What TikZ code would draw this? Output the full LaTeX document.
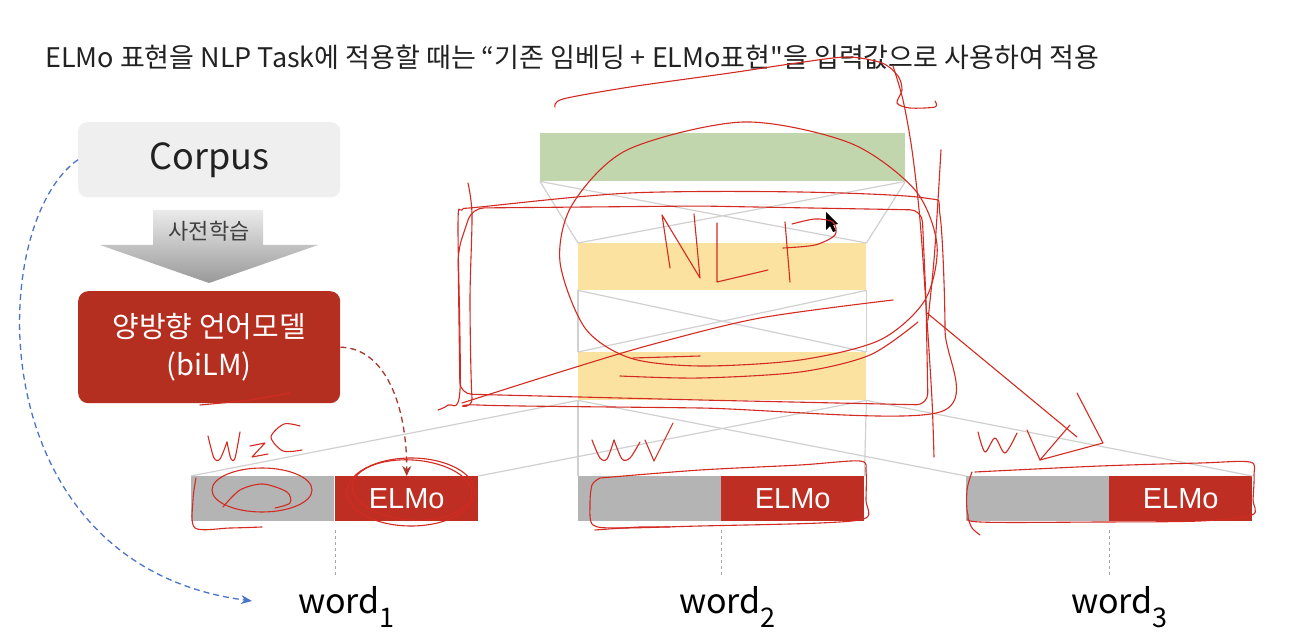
\documentclass[tikz,border=0pt]{standalone}
\usepackage{fontspec}
\setmainfont{Noto Sans CJK KR}[Ligatures=TeXOff]
\newfontfamily\arialf{Liberation Sans}
\usetikzlibrary{arrows.meta}
\definecolor{elmored}{HTML}{BE2E22}
\definecolor{bilmred}{HTML}{B52F21}
\definecolor{boxgray}{HTML}{B4B4B4}
\definecolor{corpusgray}{HTML}{EFEFEF}
\definecolor{greenbar}{HTML}{C2D6AE}
\definecolor{yellowbar}{HTML}{FBE2A1}
\definecolor{netline}{HTML}{D0D0D0}
\definecolor{pen}{HTML}{D32B22}
\definecolor{bluearr}{HTML}{4A74C9}
\definecolor{darkred}{HTML}{A8382E}
\definecolor{inkgray}{HTML}{222222}
\newcommand\wsub[1]{\raisebox{-14pt}{\fontsize{27}{27}\selectfont #1}}
\begin{document}
\begin{tikzpicture}[x=1pt,y=-1pt,
  net/.style={draw=netline, line width=1.2pt},
  scrib/.style={draw=pen, line width=1.1pt, line cap=round, line join=round},
  wordgray/.style={fill=boxgray, minimum width=143pt, minimum height=45pt, inner sep=0, anchor=north west},
  wordred/.style={fill=elmored, text=white, font=\arialf\fontsize{29}{30}\selectfont, minimum width=143pt, minimum height=45pt, inner sep=0, anchor=north west},
  wordlbl/.style={font=\fontsize{34}{36}\selectfont, text=black, inner sep=0, anchor=base west},
  bar/.style={inner sep=0, anchor=north west},
  tick/.style={draw=gray!70, dashed, line width=1pt}
]
\useasboundingbox (0,0) rectangle (1312,644);
\fill[white] (0,0) rectangle (1312,644);

% title
\node[anchor=base west, font=\fontsize{27}{30}\selectfont, text=inkgray, inner sep=0] (title) at (45,68)
  {ELMo 표현을 NLP Task에 적용할 때는 “기존 임베딩 + ELMo표현"을 입력값으로 사용하여 적용};

% left part
\node[fill=corpusgray, rounded corners=9pt, minimum width=262pt, minimum height=75pt, inner sep=0,
  anchor=north west, font=\fontsize{36}{38}\selectfont, text=inkgray] (corpus) at (78,122) {Corpus};
\path[top color=black!8, bottom color=black!40]
  (153,210) -- (263,210) -- (263,245) -- (318,245) -- (209,283) -- (100,245) -- (153,245) -- cycle;
\node[font=\fontsize{22}{24}\selectfont, text=black!75] (pre) at (209,231) {사전학습};
\node[fill=bilmred, rounded corners=10pt, minimum width=262pt, minimum height=112pt, inner sep=0,
  anchor=north west, text=white, align=center, font=\fontsize{29}{38}\selectfont] (bilm) at (78,291)
  {양방향 언어모델\\(biLM)};

% network
\node[bar, fill=greenbar, minimum width=365pt, minimum height=48pt] (green) at (540,133) {};
\node[bar, fill=yellowbar, minimum width=288pt, minimum height=47pt] (y1) at (578,243) {};
\node[bar, fill=yellowbar, minimum width=288pt, minimum height=48pt] (y2) at (578,352) {};

\node[wordgray] (g1) at (191,476) {};
\node[wordred] (r1) at (335,476) {ELMo};
\node[wordgray] (g2) at (578,476) {};
\node[wordred] (r2) at (721,476) {ELMo};
\node[wordgray] (g3) at (966,476) {};
\node[wordred] (r3) at (1109,476) {ELMo};

\draw[net] (green.south west) -- (y1.north west);
\draw[net] (green.south east) -- (y1.north east);
\draw[net] (green.south west) -- (y1.north east);
\draw[net] (green.south east) -- (y1.north west);
\draw[net] (y1.south west) -- (y2.north west);
\draw[net] (y1.south east) -- (y2.north east);
\draw[net] (y1.south west) -- (y2.north east);
\draw[net] (y1.south east) -- (y2.north west);
\draw[net] (y2.south west) -- (g1.north west);
\draw[net] (y2.south east) -- (r1.north east);
\draw[net] (y2.south west) -- (g2.north west);
\draw[net] (y2.south east) -- (r2.north east);
\draw[net] (y2.south west) -- (g3.north west);
\draw[net] (y2.south east) -- (r3.north east);

% word labels
\node[wordlbl] (w1) at (298,613) {word\wsub{1}};
\node[wordlbl] (w2) at (679,613) {word\wsub{2}};
\node[wordlbl] (w3) at (1071,613) {word\wsub{3}};
\draw[tick] ([yshift=-9pt]r1.south west) -- ([yshift=8pt]w1.north -| r1.south west);
\draw[tick] ([yshift=-9pt]r2.south west) -- ([yshift=8pt]w2.north -| r2.south west);
\draw[tick] ([yshift=-9pt]r3.south west) -- ([yshift=8pt]w3.north -| r3.south west);

% dashed connectors
\coordinate (bluetip) at (252,601);
\draw[bluearr, dash pattern=on 6pt off 4pt, line width=1.3pt, -{Stealth[length=11pt,width=9pt]}]
  (corpus.west) .. controls (-15,225) and (-22,565) .. (bluetip);
\draw[darkred, dash pattern=on 6pt off 4pt, line width=1.3pt, -{Stealth[length=10pt,width=9pt]}]
  (bilm.east) .. controls (385,348) and (407,405) .. (r1.north);

% cursor
\fill[black] (826,212) -- (826,230) -- (830,226) -- (833,232) -- (836,231) -- (833,225) -- (838,224) -- cycle;

% ---------- red handwriting ----------
% top curve and loop
\draw[scrib] plot[smooth] coordinates {(555,107) (563,99) (630,87) (730,73) (797,63) (847,57) (882,63) (898,76) (902,90) (897,103) (910,108) (935,107) (935,101)};
\draw[scrib] plot[smooth] coordinates {(893,66) (903,100) (912,150) (920,220) (927,320) (932,400) (934,457)};
\draw[scrib] plot[smooth] coordinates {(941,150) (938,200) (934,260) (928,320)};
% rounded rectangle (two strokes)
\draw[scrib, rounded corners=12pt] (472,208) -- (700,206) -- (922,210) -- (926,300) -- (928,405) -- (700,400) -- (460,394) -- (458,250) -- cycle;
\draw[scrib] plot[smooth] coordinates {(468,183) (472,215) (470,300) (472,398) (478,405) (700,408) (940,412) (945,330) (940,215) (925,198) (800,192) (630,193) (480,207) (462,210) (458,225) (460,390) (448,405) (438,410)};
% big ellipse
\draw[scrib] plot[smooth cycle] coordinates {(743,122) (850,143) (915,190) (937,245) (925,300) (880,340) (800,360) (700,366) (630,358) (585,328) (560,262) (572,205) (627,150)};
% strokes across
\draw[scrib] plot[smooth] coordinates {(462,403) (560,372) (650,345) (760,318) (893,300)};
\draw[scrib] plot[smooth] coordinates {(620,376) (700,378) (800,372) (870,355) (918,322)};
\draw[scrib] (633,358) -- (700,356);
% NLP
\draw[scrib] (670,268) -- (662,215) -- (700,278) -- (694,214);
\draw[scrib] (717,223) -- (717,282) -- (768,270);
\draw[scrib] (790,282) -- (785,222);
\draw[scrib] plot[smooth] coordinates {(783,248) (815,245) (835,235) (833,222) (815,219) (792,224)};
% arrow to word3
\draw[scrib] (927,313) -- (1077,437);
\draw[scrib] (1027,430) -- (1040,460) -- (1070,425);
\draw[scrib] (1040,460) -- (1103,443) -- (1077,393);
\draw[scrib] plot[smooth] coordinates {(978,432) (985,452) (995,438) (1005,453) (1017,433)};
% outline word2
\draw[scrib] plot[smooth] coordinates {(600,478) (700,470) (800,465) (860,461) (866,472) (866,500) (866,518) (820,523) (700,526) (620,528) (593,525) (590,505) (592,485) (600,478)};
\draw[scrib] plot[smooth] coordinates {(595,530) (640,527) (670,527)};
% outline word3
\draw[scrib] plot[smooth] coordinates {(975,472) (1100,466) (1200,463) (1250,462) (1254,475) (1253,500) (1252,515) (1200,521) (1100,522) (980,522) (968,515) (967,490) (972,472)};
\draw[scrib] plot[smooth] coordinates {(968,518) (972,528) (980,535)};
% WV at word2
\draw[scrib] plot[smooth] coordinates {(592,440) (600,458) (607,459) (614,440)};
\draw[scrib] plot[smooth] coordinates {(614,440) (622,459) (630,458) (640,442)};
\draw[scrib] (645,440) -- (654,461) -- (673,423);
% word1 scribbles
\draw[scrib] (411,492) ellipse [x radius=64, y radius=34];
\draw[scrib, rotate around={-4:(412,490)}] (412,490) ellipse [x radius=60, y radius=30];
\draw[scrib] (262,490) ellipse [x radius=50, y radius=22];
\draw[scrib] plot[smooth] coordinates {(223,507) (240,490) (263,484) (287,492) (290,503) (275,508)};
\draw[scrib] plot[smooth] coordinates {(196,478) (193,500) (195,528) (230,528) (262,527)};
\draw[scrib] plot[smooth] coordinates {(200,405) (250,400) (290,393)};
% W2C
\draw[scrib] plot[smooth] coordinates {(208,436) (214,458) (220,459) (227,442)};
\draw[scrib] plot[smooth] coordinates {(227,442) (231,459) (235,458) (240,432)};
\draw[scrib] (250,446) -- (265,443) -- (252,457) -- (268,454);
\draw[scrib] plot[smooth] coordinates {(300,426) (284,424) (271,437) (283,451) (302,450)};
\end{tikzpicture}
\end{document}
